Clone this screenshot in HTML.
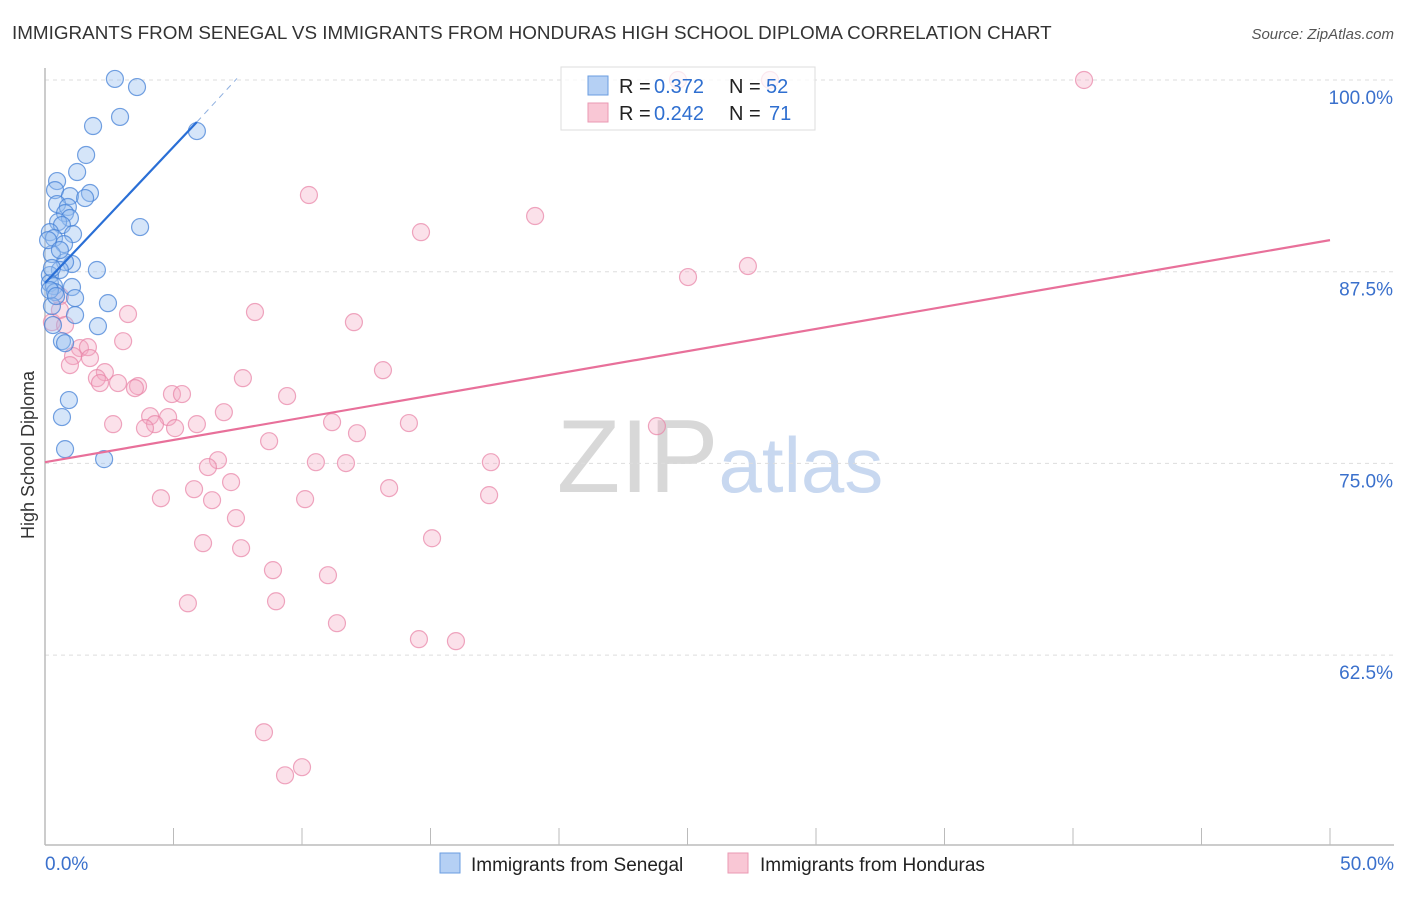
<!DOCTYPE html>
<html><head><meta charset="utf-8"><style>
body{margin:0;background:#fff;font-family:"Liberation Sans",sans-serif;}
svg text{font-family:"Liberation Sans",sans-serif;}
</style></head><body>
<svg id="chart" width="1406" height="892" xmlns="http://www.w3.org/2000/svg">
<text x="12" y="39" font-size="18.85" fill="#333">IMMIGRANTS FROM SENEGAL VS IMMIGRANTS FROM HONDURAS HIGH SCHOOL DIPLOMA CORRELATION CHART</text>
<text x="1394" y="39" font-size="15" fill="#555" font-style="italic" text-anchor="end">Source: ZipAtlas.com</text>
<text x="720" y="492" font-size="104" text-anchor="middle" fill="#ddd" font-family="Liberation Serif"><tspan fill="#d8d8d8">ZIP</tspan><tspan fill="#c8d8f0" font-family="Liberation Sans" font-size="78">atlas</tspan></text>
<text transform="translate(34,455) rotate(-90)" font-size="18" fill="#333" text-anchor="middle">High School Diploma</text>
<g id="grid"></g>
<g id="marks"></g>
<g>
<rect x="561" y="67" width="254" height="63" fill="rgba(255,255,255,0.75)" stroke="#ddd"/>
<rect x="588" y="76" width="20" height="19" fill="#b5d0f4" stroke="#6a9de0"/>
<rect x="588" y="103" width="20" height="19" fill="#f9c7d5" stroke="#ea9ab3"/>
<text x="619" y="93" font-size="20" fill="#222">R =</text>
<text x="654" y="93" font-size="20" fill="#2f6fd0">0.372</text>
<text x="729" y="93" font-size="20" fill="#222">N =</text>
<text x="766" y="93" font-size="20" fill="#2f6fd0">52</text>
<text x="619" y="120" font-size="20" fill="#222">R =</text>
<text x="654" y="120" font-size="20" fill="#2f6fd0">0.242</text>
<text x="729" y="120" font-size="20" fill="#222">N =</text>
<text x="769" y="120" font-size="20" fill="#2f6fd0">71</text>
</g>
<g>
<rect x="440" y="853" width="20" height="20" fill="#b5d0f4" stroke="#6a9de0"/>
<text x="471" y="871" font-size="19" fill="#222">Immigrants from Senegal</text>
<rect x="728" y="853" width="20" height="20" fill="#f9c7d5" stroke="#ea9ab3"/>
<text x="760" y="871" font-size="19" fill="#222">Immigrants from Honduras</text>
</g>
</svg>
<script>
const yTicks=[100,87.5,75,62.5];
const yTickLabels=["100.0%","87.5%","75.0%","62.5%"];
const xTickLabels=["0.0%","50.0%"];
const blueX=[2.72,3.58,2.92,1.87,5.91,1.6,1.25,0.47,0.39,1.75,0.97,1.56,0.47,0.89,0.78,0.97,0.51,0.66,3.7,0.19,1.09,0.35,0.74,0.27,2.02,1.05,0.78,0.58,0.19,0.19,0.35,1.05,0.39,1.17,2.45,0.27,1.17,0.31,2.06,0.66,0.78,0.93,0.66,0.78,2.3,0.19,0.27,0.12,0.58,0.43];
const blueY=[100.07,99.54,97.59,97.0,96.67,95.11,94.0,93.41,92.82,92.63,92.43,92.3,91.91,91.72,91.32,91.0,90.74,90.54,90.41,90.08,89.95,89.69,89.3,88.65,87.61,88.0,88.13,87.61,87.28,86.76,86.56,86.5,86.17,85.78,85.45,85.26,84.67,84.02,83.95,82.97,82.84,79.13,78.02,75.93,75.28,86.3,87.74,89.56,88.91,85.91];
const pinkX=[40.43,24.63,28.21,10.27,19.07,14.63,25.02,27.35,0.58,8.17,3.23,12.02,0.27,3.04,1.36,1.67,1.75,1.09,0.97,13.15,7.7,2.33,2.02,2.14,2.84,3.62,3.5,9.42,4.94,5.33,6.96,4.09,4.79,4.28,11.17,14.16,2.65,3.89,5.06,5.91,23.81,12.14,8.72,6.73,6.34,10.54,11.71,17.35,7.24,5.8,13.39,17.28,4.51,10.12,6.5,7.43,15.06,6.15,7.63,8.87,11.01,5.56,8.99,11.36,14.55,15.99,8.52,10.0,9.34,0.58,0.78];
const pinkY=[100,100,100,92.5,91.13,90.08,87.15,87.87,85.91,84.87,84.74,84.21,84.21,82.97,82.52,82.58,81.87,82.0,81.41,81.08,80.56,80.95,80.56,80.24,80.24,80.04,79.91,79.39,79.52,79.52,78.34,78.08,78.02,77.56,77.69,77.63,77.56,77.3,77.3,77.56,77.43,76.97,76.45,75.21,74.76,75.08,75.02,75.08,73.78,73.32,73.39,72.93,72.73,72.67,72.6,71.43,70.12,69.8,69.47,68.04,67.71,65.88,66.01,64.58,63.54,63.41,57.47,55.19,54.66,85.0,84.02];
const blueLine=[[0,86.76],[5.91,97.26]];
const blueDash=[[5.91,97.26],[7.47,100.1]];
const pinkLine=[[0,75.08],[50,89.56]];
const X=v=>45+v/50*1285;
const Y=v=>80+(100-v)/12.5*191.7;
const NS="http://www.w3.org/2000/svg";
const grid=document.getElementById('grid'),marks=document.getElementById('marks');
function mk(t,a,p){const e=document.createElementNS(NS,t);for(const k in a)e.setAttribute(k,a[k]);p.appendChild(e);return e;}
yTicks.forEach((t,i)=>{
 const l=mk('line',{x1:45,x2:1394,y1:Y(t),y2:Y(t),stroke:'#ddd','stroke-dasharray':'4,4'},grid);
 
 
 const tx=mk('text',{x:1393,y:Y(t)+24,'font-size':19,fill:'#3a70cc','text-anchor':'end'},grid);
 tx.textContent=yTickLabels[i];
 
 
});
let ax=mk('line',{x1:45,x2:45,y1:68,y2:845,stroke:'#bbb','stroke-width':1.5},grid);


ax=mk('line',{x1:45,x2:1394,y1:845,y2:845,stroke:'#bbb','stroke-width':1.5},grid);


for(let i=0;i<=10;i++){const t=mk('line',{x1:X(i*5),x2:X(i*5),y1:828,y2:845,stroke:'#bbb'},grid);
 
 }
[[0,'start',45],[1,'end',1394]].forEach(([i,a,x])=>{const t=mk('text',{x:x,y:870,'font-size':19,fill:'#3a70cc','text-anchor':a},grid);t.textContent=xTickLabels[i];
 
 });
pinkX.forEach((v,i)=>{const c=mk('circle',{cx:X(v),cy:Y(pinkY[i]),r:8.5,fill:'rgba(244,170,195,0.35)',stroke:'rgba(232,130,165,0.7)','stroke-width':1.2},marks);
 
 });
blueX.forEach((v,i)=>{const c=mk('circle',{cx:X(v),cy:Y(blueY[i]),r:8.5,fill:'rgba(150,190,240,0.4)',stroke:'rgba(70,130,215,0.75)','stroke-width':1.2},marks);
 
 });
let ln=mk('line',{x1:X(blueLine[0][0]),y1:Y(blueLine[0][1]),x2:X(blueLine[1][0]),y2:Y(blueLine[1][1]),stroke:'#2a6fd6','stroke-width':2.2},marks);


ln=mk('line',{x1:X(blueDash[0][0]),y1:Y(blueDash[0][1]),x2:X(blueDash[1][0]),y2:Y(blueDash[1][1]),stroke:'#8fb0e0','stroke-width':1,'stroke-dasharray':'6,5'},marks);


ln=mk('line',{x1:X(pinkLine[0][0]),y1:Y(pinkLine[0][1]),x2:X(pinkLine[1][0]),y2:Y(pinkLine[1][1]),stroke:'#e8709a','stroke-width':2.2},marks);


</script>
</body></html>
